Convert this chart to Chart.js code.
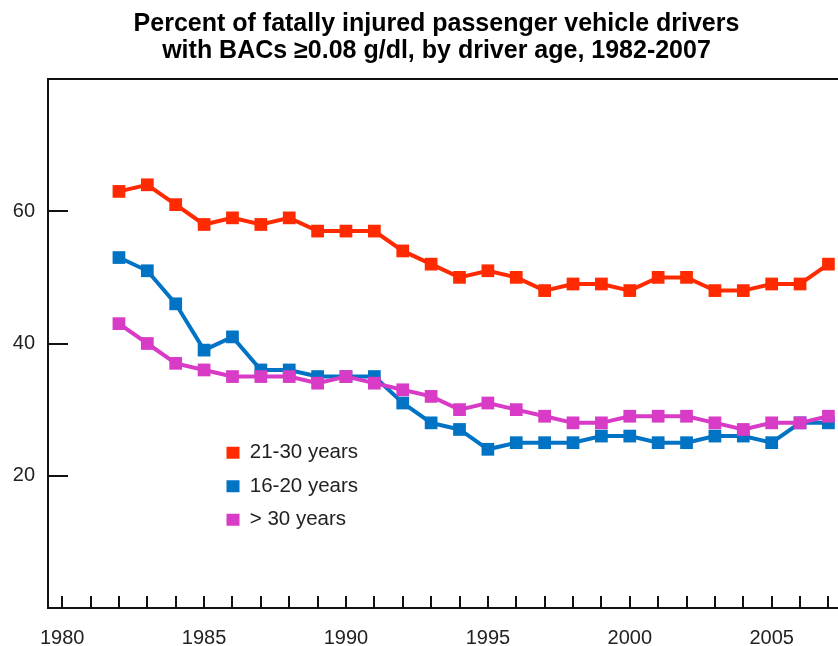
<!DOCTYPE html>
<html>
<head>
<meta charset="utf-8">
<script src="https://cdn.jsdelivr.net/npm/chart.js@4/dist/chart.umd.min.js"></script>
<style>
  html, body { margin: 0; padding: 0; background: #fff; overflow: hidden; }
  #wrap { width: 880px; height: 646px; }
</style>
</head>
<body>
<div id="wrap"><canvas id="c" width="880" height="646"></canvas></div>
<script>
const titleLines = ['Percent of fatally injured passenger vehicle drivers', 'with BACs \u22650.08 g/dl, by driver age, 1982-2007'];
const years = [1982, 1983, 1984, 1985, 1986, 1987, 1988, 1989, 1990, 1991, 1992, 1993, 1994,
               1995, 1996, 1997, 1998, 1999, 2000, 2001, 2002, 2003, 2004, 2005, 2006, 2007];
const age21to30 = [63, 64, 61, 58, 59, 58, 59, 57, 57, 57, 54, 52, 50, 51, 50, 48, 49, 49, 48, 50, 50, 48, 48, 49, 49, 52];
const age16to20 = [53, 51, 46, 39, 41, 36, 36, 35, 35, 35, 31, 28, 27, 24, 25, 25, 25, 26, 26, 25, 25, 26, 26, 25, 28, 28];
const ageOver30 = [43, 40, 37, 36, 35, 35, 35, 34, 35, 34, 33, 32, 30, 31, 30, 29, 28, 28, 29, 29, 29, 28, 27, 28, 28, 29];
const seriesLabels = ['21-30 years', '16-20 years', '> 30 years'];
const xTickLabels = [1980, 1985, 1990, 1995, 2000, 2005];
const yTickValues = [20, 40, 60];

const COLORS = ['#ff2a00', '#0073c4', '#d83bc5'];
const AXIS = '#111111';
const FONT = "'Liberation Sans', Arial, sans-serif";

function pts(vals) { return years.map((y, i) => ({ x: y, y: vals[i] })); }

function ds(label, vals, color, order) {
  return {
    label, data: pts(vals), order,
    borderColor: color, backgroundColor: color,
    borderWidth: 4, tension: 0,
    pointStyle: 'rect', pointRadius: 9, pointHoverRadius: 9,
    pointBorderWidth: 0, pointBackgroundColor: color, pointBorderColor: color
  };
}

const axisDecor = {
  id: 'axisDecor',
  afterLayout(chart) {
    const lg = chart.legend;
    if (lg) {
      const w = lg.width, h = lg.height;
      lg.left = 213.5; lg.top = 429.5;
      lg.right = lg.left + w; lg.bottom = lg.top + h;
    }
  },
  afterDraw(chart) {
    const { ctx, chartArea: a, scales: { x, y } } = chart;
    ctx.save();
    ctx.strokeStyle = AXIS;
    ctx.lineWidth = 2;
    ctx.beginPath();
    ctx.moveTo(a.left - 1, a.top);
    ctx.lineTo(chart.width, a.top);
    for (let v = Math.ceil(x.min); v <= Math.floor(x.max); v++) {
      const px = Math.round(x.getPixelForValue(v));
      ctx.moveTo(px, a.bottom);
      ctx.lineTo(px, a.bottom - 12);
    }
    yTickValues.forEach(v => {
      const py = Math.round(y.getPixelForValue(v));
      ctx.moveTo(a.left, py);
      ctx.lineTo(a.left + 20, py);
    });
    ctx.stroke();
    ctx.restore();
  }
};

new Chart(document.getElementById('c'), {
  type: 'line',
  data: {
    datasets: [
      ds(seriesLabels[0], age21to30, COLORS[0], 0),
      ds(seriesLabels[1], age16to20, COLORS[1], 2),
      ds(seriesLabels[2], ageOver30, COLORS[2], 1)
    ]
  },
  options: {
    responsive: false,
    animation: false,
    devicePixelRatio: 1,
    layout: { padding: { left: 0, right: 7, top: 0, bottom: 0 } },
    plugins: {
      tooltip: { enabled: false },
      title: {
        display: true,
        text: titleLines,
        color: '#000',
        font: { family: FONT, size: 25, weight: 'bold', lineHeight: 1.08 },
        padding: { top: 11, bottom: 14 }
      },
      legend: {
        position: 'chartArea',
        align: 'start',
        labels: {
          font: { family: FONT, size: 20.5 },
          color: '#222',
          boxWidth: 13,
          boxHeight: 12,
          padding: 13,
          generateLabels(chart) {
            return chart.data.datasets.map((d, i) => ({
              text: d.label, fillStyle: d.borderColor, strokeStyle: d.borderColor,
              lineWidth: 0, hidden: false, datasetIndex: i, fontColor: '#222'
            }));
          }
        }
      }
    },
    scales: {
      x: {
        type: 'linear',
        position: 'bottom',
        min: 1979.5,
        max: 2008.5,
        afterBuildTicks: s => { s.ticks = xTickLabels.map(v => ({ value: v })); },
        afterFit: s => { s.height = 38; },
        ticks: {
          callback: v => String(v),
          font: { family: FONT, size: 20 },
          color: '#222',
          padding: 18,
          maxRotation: 0,
          autoSkip: false
        },
        grid: { display: false, drawTicks: false },
        border: { display: true, color: AXIS, width: 2 }
      },
      y: {
        min: 0,
        max: 80,
        afterBuildTicks: s => { s.ticks = yTickValues.map(v => ({ value: v })); },
        afterFit: s => { s.width = 48; },
        ticks: {
          font: { family: FONT, size: 20 },
          color: '#222',
          padding: 13
        },
        grid: { display: false, drawTicks: false },
        border: { display: true, color: AXIS, width: 2 }
      }
    }
  },
  plugins: [axisDecor]
});
</script>
</body>
</html>
